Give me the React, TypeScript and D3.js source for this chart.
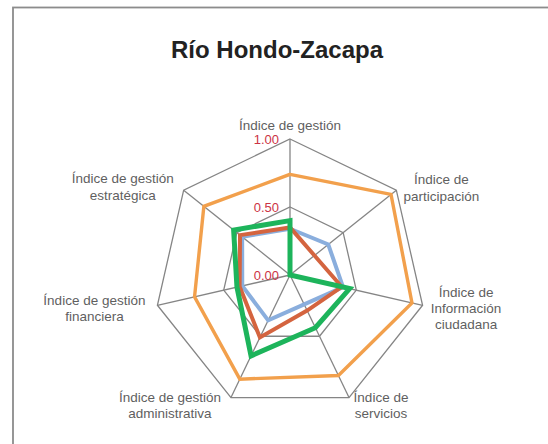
import React from "react";
import * as d3 from "d3";

// ---- data ----
const axisLabels: string[][] = [
  ["Índice de gestión"],
  ["Índice de", "participación"],
  ["Índice de", "Información", "ciudadana"],
  ["Índice de", "servicios"],
  ["Índice de gestión", "administrativa"],
  ["Índice de gestión", "financiera"],
  ["Índice de gestión", "estratégica"],
];
const tickValues = [0, 0.5, 1];
const tickLabels = ["0.00", "0.50", "1.00"];
const gridLevels = [0.5, 1];

const seriesOrange = [0.74, 0.95, 0.92, 0.82, 0.85, 0.72, 0.81];
const seriesBlue = [0.34, 0.36, 0.4, 0.24, 0.37, 0.36, 0.45];
const seriesRed = [0.35, 0.23, 0.39, 0.29, 0.51, 0.38, 0.47];
const seriesGreen = [0.4, 0.0, 0.45, 0.43, 0.66, 0.4, 0.53];

// ---- layout ----
const W = 548;
const H = 444;
const CX = 290;
const CY = 275;
const R = 136;
const labelOffsets: [number, number][] = [
  [0, -14],
  [45, -2.5],
  [43.5, 3],
  [32, 7.7],
  [-61, 7.7],
  [-63, 3],
  [-61, -3.5],
];
const LINE_H = 16.3;

const seriesStyles = [
  { data: seriesOrange, color: "#F2A04C", width: 3.4 },
  { data: seriesBlue, color: "#8AAEDD", width: 4 },
  { data: seriesRed, color: "#D4643F", width: 4 },
  { data: seriesGreen, color: "#1DB45B", width: 5 },
];

export default function App() {
  const n = axisLabels.length;
  const r = d3.scaleLinear().domain([0, 1]).range([0, R]);
  const angle = d3
    .scaleLinear()
    .domain([0, n])
    .range([0, 2 * Math.PI]);
  const pt = (i: number, v: number): [number, number] => {
    const a = angle(i);
    return [CX + r(v) * Math.sin(a), CY - r(v) * Math.cos(a)];
  };
  const radial = d3
    .lineRadial<number>()
    .angle((_, i) => angle(i))
    .radius((d) => r(d))
    .curve(d3.curveLinearClosed);

  const idx = d3.range(n);

  return (
    <svg
      width={W}
      height={H}
      style={{ position: "absolute", left: 0, top: 0, background: "#fff" }}
      fontFamily="'Liberation Sans', Arial, Helvetica, sans-serif"
    >
      <rect x={0} y={0} width={W} height={H} fill="#fff" />
      <rect
        x={13}
        y={7.5}
        width={700}
        height={600}
        fill="none"
        stroke="#8c8c8c"
        strokeWidth={1.8}
      />
      <text
        x={277}
        y={58}
        textAnchor="middle"
        fontSize={24}
        fontWeight="bold"
        fill="#222"
      >
        Río Hondo-Zacapa
      </text>

      {/* grid rings */}
      {gridLevels.map((lv) => (
        <path
          key={lv}
          d={radial(idx.map(() => lv)) || ""}
          transform={`translate(${CX},${CY})`}
          fill="none"
          stroke="#858585"
          strokeWidth={1.3}
        />
      ))}
      {/* spokes */}
      {idx.map((i) => {
        const [x, y] = pt(i, 1);
        return (
          <line
            key={i}
            x1={CX}
            y1={CY}
            x2={x}
            y2={y}
            stroke="#858585"
            strokeWidth={1.3}
          />
        );
      })}

      {/* series */}
      {seriesStyles.map((s, k) => (
        <path
          key={k}
          d={radial(s.data) || ""}
          transform={`translate(${CX},${CY})`}
          fill="none"
          stroke={s.color}
          strokeWidth={s.width}
          strokeLinejoin="miter"
        />
      ))}

      {/* tick labels */}
      {tickValues.map((v, k) => (
        <text
          key={v}
          x={CX - 11}
          y={CY - r(v)}
          dy="0.38em"
          textAnchor="end"
          fontSize={13}
          fill="#CC3344"
        >
          {tickLabels[k]}
        </text>
      ))}

      {/* axis labels */}
      {axisLabels.map((lines, i) => {
        const [vx, vy] = pt(i, 1);
        const cx = vx + labelOffsets[i][0];
        const cy = vy + labelOffsets[i][1];
        return (
          <text
            key={i}
            textAnchor="middle"
            fontSize={13.5}
            fill="#5f5f5f"
          >
            {lines.map((ln, j) => (
              <tspan
                key={j}
                x={cx}
                y={cy + (j - (lines.length - 1) / 2) * LINE_H}
                dy="0.35em"
              >
                {ln}
              </tspan>
            ))}
          </text>
        );
      })}
    </svg>
  );
}
